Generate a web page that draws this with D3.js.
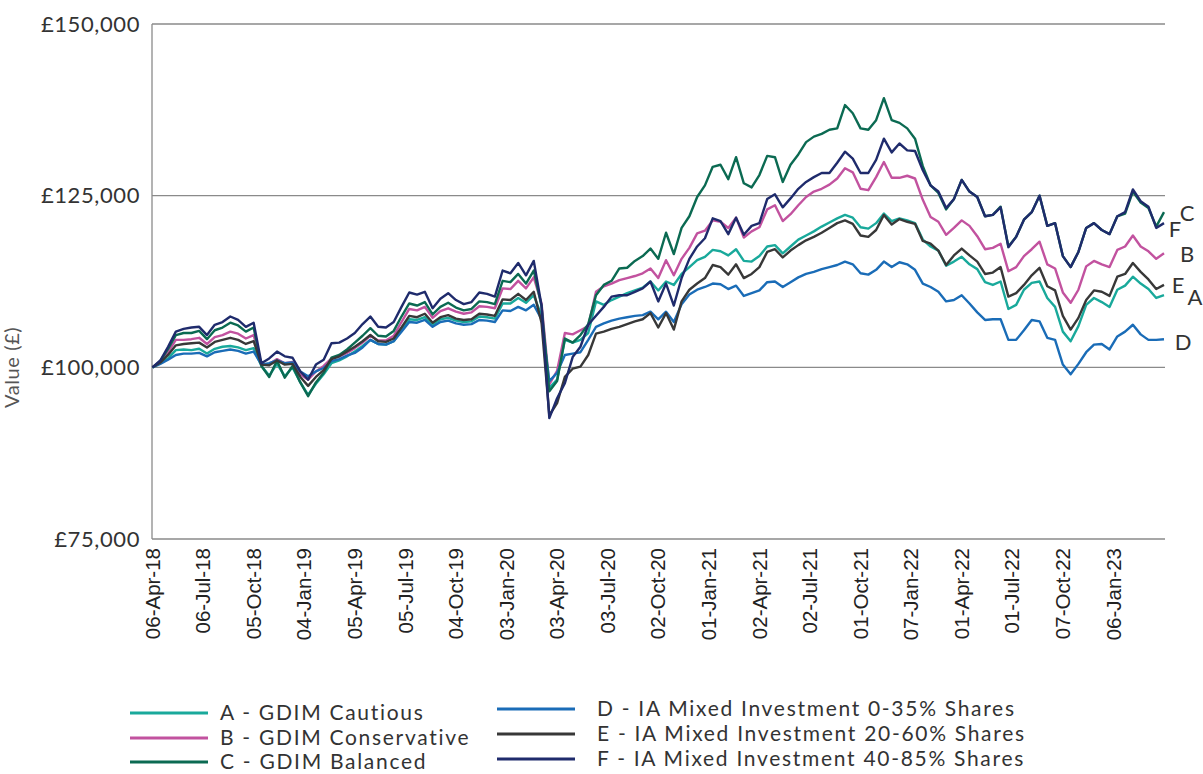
<!DOCTYPE html>
<html>
<head>
<meta charset="utf-8">
<script src="https://cdn.jsdelivr.net/npm/d3@7"></script>
<style>
  html, body { margin: 0; padding: 0; background: #fff; }
  svg { display: block; }
</style>
</head>
<body>
<svg id="chart" width="1203" height="774"></svg>
<script>
// ---- Data (values in £ thousands, one point every 2 weeks from 06-Apr-18) ----
const STEP_WEEKS = 2;
const TOTAL_WEEKS = 260;
const tickEveryWeeks = 13;
const tickLabels = ["06-Apr-18","06-Jul-18","05-Oct-18","04-Jan-19","05-Apr-19","05-Jul-19","04-Oct-19","03-Jan-20","03-Apr-20","03-Jul-20","02-Oct-20","01-Jan-21","02-Apr-21","02-Jul-21","01-Oct-21","07-Jan-22","01-Apr-22","01-Jul-22","07-Oct-22","06-Jan-23"];
const yTicks = [75, 100, 125, 150];

const seriesNames = ["A - GDIM Cautious","B - GDIM Conservative","C - GDIM Balanced","D - IA Mixed Investment 0-35% Shares","E - IA Mixed Investment 20-60% Shares","F - IA Mixed Investment 40-85% Shares"];
const seriesKeys = ["A","B","C","D","E","F"];

const valuesA = [100.0,100.6,101.3,102.5,102.6,102.5,102.7,102.0,102.7,103.0,103.1,102.9,102.5,102.8,100.2,98.8,100.5,98.7,100.0,97.8,96.0,97.6,99.0,100.6,101.0,101.6,102.3,103.1,104.0,103.4,103.3,103.8,105.4,107.0,106.9,107.3,106.2,107.0,107.2,106.8,106.6,106.7,107.4,107.3,107.1,109.3,109.3,110.1,109.4,110.5,107.5,97.0,98.2,104.0,103.6,104.0,105.0,109.6,109.1,109.8,110.3,110.8,111.2,111.6,112.5,111.2,112.5,112.0,113.6,114.6,115.6,116.1,117.1,116.9,116.3,117.2,115.5,115.4,116.2,117.6,117.8,116.6,117.6,118.6,119.2,119.8,120.5,121.1,121.7,122.2,121.8,120.4,120.2,121.0,122.4,121.3,121.7,121.4,121.0,118.6,117.6,117.0,114.8,115.4,116.1,115.0,114.3,112.4,112.0,112.5,108.5,109.1,111.3,112.3,112.5,110.1,108.8,105.2,103.8,106.0,109.1,110.1,109.5,108.8,111.3,111.9,113.2,112.2,111.4,110.1,110.5];
const valuesB = [100.0,100.8,102.2,104.0,104.0,104.1,104.3,103.4,104.4,104.7,105.2,104.9,104.2,104.7,100.3,100.5,101.2,100.6,100.8,99.0,98.2,99.4,100.2,101.3,101.6,102.1,102.8,103.6,104.6,103.9,103.9,104.6,106.6,108.5,108.3,108.8,107.2,108.2,108.6,108.1,107.8,108.0,108.9,108.8,108.6,111.5,111.4,112.6,111.5,113.1,109.3,97.5,99.5,105.0,104.8,105.4,106.0,111.0,111.8,112.2,112.7,113.0,113.3,113.7,114.4,113.0,115.6,113.4,115.8,117.4,119.5,119.9,121.4,121.2,120.3,121.8,118.9,119.8,120.4,123.0,123.6,121.3,122.3,123.6,124.8,125.6,126.0,126.6,127.5,129.0,128.4,126.0,125.8,127.7,129.9,127.6,127.6,127.9,127.5,124.4,121.9,121.2,119.3,120.3,121.4,120.6,119.1,117.2,117.4,118.0,114.0,114.6,116.2,117.2,118.3,115.0,114.4,110.9,109.4,111.3,114.7,115.5,115.0,114.6,117.1,117.6,119.2,117.6,116.9,115.8,116.6];
const valuesC = [100.0,100.9,102.7,104.7,105.0,105.0,105.3,104.1,105.4,105.8,106.5,106.1,105.2,105.8,100.2,98.6,101.0,98.5,100.2,97.8,95.8,97.8,99.2,101.4,101.8,102.6,103.6,104.6,105.7,104.6,104.5,105.3,107.4,109.3,109.0,109.5,107.7,108.8,109.4,108.7,108.3,108.5,109.6,109.5,109.2,112.6,112.4,113.6,112.2,114.1,108.9,96.5,98.0,104.2,103.6,104.7,106.3,110.5,112.0,112.6,114.4,114.5,115.5,116.2,117.3,115.8,119.6,116.5,120.3,122.0,124.8,126.5,129.2,129.5,127.4,130.6,126.8,126.2,128.0,130.8,130.6,127.0,129.5,131.0,132.8,133.6,134.0,134.6,134.8,138.2,137.0,134.8,134.6,136.0,139.2,136.0,135.6,134.8,133.3,129.3,126.5,125.4,123.0,124.5,127.3,125.6,124.8,122.0,122.2,123.4,117.6,119.0,121.5,122.6,125.0,120.6,121.0,116.2,114.6,116.8,120.3,121.0,120.0,119.4,122.0,122.4,125.6,124.0,123.2,120.5,122.6];
const valuesD = [100.0,100.5,101.1,101.8,102.0,102.0,102.1,101.6,102.2,102.4,102.6,102.4,102.0,102.3,100.4,100.6,101.0,100.6,100.7,99.4,98.7,99.4,99.9,100.9,101.2,101.7,102.1,102.9,104.0,103.4,103.3,103.8,105.2,106.6,106.5,106.9,105.9,106.6,106.8,106.4,106.2,106.3,106.9,106.8,106.6,108.3,108.2,108.8,108.3,109.1,107.0,98.0,99.2,101.8,102.0,102.2,104.0,105.9,106.4,106.8,107.1,107.3,107.5,107.6,108.1,107.0,108.1,106.6,109.2,110.6,111.3,111.7,112.2,112.1,111.4,111.9,110.4,110.8,111.2,112.4,112.5,111.7,112.4,113.1,113.6,113.9,114.3,114.6,114.9,115.4,115.0,113.7,113.5,114.2,115.4,114.6,115.3,115.0,114.2,112.2,111.7,111.0,109.6,109.8,110.5,109.3,108.0,106.9,107.0,107.0,104.0,104.0,105.4,106.9,106.7,104.3,104.0,100.4,99.0,100.5,102.2,103.3,103.4,102.6,104.5,105.2,106.2,104.8,104.0,104.0,104.1];
const valuesE = [100.0,100.7,101.8,103.2,103.4,103.5,103.6,102.9,103.7,104.0,104.3,104.0,103.4,103.8,100.4,100.3,101.0,100.4,100.5,98.6,97.3,98.6,99.6,101.2,101.6,102.3,103.0,103.8,104.7,103.8,103.7,104.2,105.8,107.5,107.3,107.8,106.5,107.3,107.6,107.1,106.9,107.0,107.8,107.7,107.5,109.9,109.8,110.7,109.8,111.0,106.5,93.0,94.8,98.6,99.8,100.1,101.8,104.9,105.2,105.6,105.9,106.3,106.7,107.0,107.9,105.8,107.9,105.5,109.6,111.3,112.2,113.0,114.9,114.6,113.5,115.0,113.0,113.6,114.6,116.8,117.2,116.0,117.0,117.8,118.5,119.0,119.6,120.3,121.0,121.4,120.9,119.2,119.0,120.0,122.2,120.8,121.6,121.2,120.9,118.4,118.0,117.0,114.9,116.3,117.3,116.3,115.4,113.6,113.8,114.6,110.3,110.8,112.0,113.4,114.5,111.8,111.2,107.5,105.5,107.2,109.8,111.2,111.0,110.4,113.2,113.6,115.2,113.9,112.8,111.4,112.0];
const valuesF = [100.0,101.0,103.0,105.2,105.6,105.8,105.9,104.7,106.2,106.6,107.4,106.9,105.9,106.5,100.6,101.3,102.3,101.6,101.4,99.4,98.2,100.4,101.1,103.5,103.6,104.2,105.0,106.3,107.4,105.9,105.8,106.6,108.8,110.9,110.6,111.0,108.6,110.0,110.8,109.8,109.2,109.5,110.9,110.7,110.3,114.1,113.7,115.2,113.4,115.5,109.0,92.6,95.5,97.7,101.5,103.0,106.2,107.5,108.8,110.3,110.5,110.5,111.0,111.5,112.5,109.6,112.2,109.0,113.0,115.8,117.6,118.8,121.7,121.3,119.4,121.8,119.3,120.6,121.0,124.5,125.2,123.3,124.6,126.0,127.0,127.7,128.3,128.3,129.8,131.4,130.4,128.3,128.3,130.2,133.3,131.3,132.6,131.6,131.5,128.7,126.5,125.6,123.2,124.5,127.3,125.6,124.8,122.0,122.2,123.3,117.5,119.0,121.5,122.6,125.0,120.6,121.0,116.2,114.6,116.8,120.3,121.0,120.0,119.4,122.0,122.6,125.9,124.2,123.4,120.3,121.0];

const seriesValues = [valuesA, valuesB, valuesC, valuesD, valuesE, valuesF];
const colors = ["#19a99b", "#c2529f", "#0b6a52", "#1a6cb7", "#383838", "#1f2b6c"];
const drawOrder = [0, 1, 3, 2, 4, 5];

// ---- Layout ----
const svg = d3.select("#chart");
const plot = { left: 152, right: 1165, top: 24, bottom: 539 };
const x = d3.scaleLinear().domain([0, TOTAL_WEEKS]).range([152.5, 1164]);
const y = d3.scaleLinear().domain([75, 150]).range([plot.bottom, plot.top]);
const uiFont = "Lato, 'Open Sans', sans-serif";

// Gridlines
svg.append("g").selectAll("line").data(yTicks).join("line")
  .attr("x1", plot.left).attr("x2", plot.right)
  .attr("y1", d => y(d)).attr("y2", d => y(d))
  .attr("stroke", "#8a8a8a").attr("stroke-width", 1.3);
// Left axis line
svg.append("line")
  .attr("x1", plot.left).attr("x2", plot.left)
  .attr("y1", plot.top).attr("y2", plot.bottom)
  .attr("stroke", "#8a8a8a").attr("stroke-width", 1.3);

// Y tick labels
const fmt = d3.format(",");
svg.append("g").selectAll("text").data(yTicks).join("text")
  .attr("x", 140).attr("y", d => y(d)).attr("dy", "0.35em")
  .attr("text-anchor", "end")
  .attr("font-family", uiFont)
  .attr("font-size", 22).attr("letter-spacing", 0.6).attr("fill", "#333")
  .text(d => "£" + fmt(d * 1000));

// Y title
svg.append("text")
  .attr("transform", `translate(19, ${y(100)}) rotate(-90)`)
  .attr("text-anchor", "middle")
  .attr("font-family", uiFont)
  .attr("font-size", 20).attr("letter-spacing", 0.6).attr("fill", "#555")
  .text("Value (£)");

// X tick labels
svg.append("g").selectAll("text").data(tickLabels).join("text")
  .attr("transform", (d, i) => `translate(${x(i * tickEveryWeeks)}, 548) rotate(-90)`)
  .attr("text-anchor", "end").attr("dy", "0.35em")
  .attr("font-family", "'Liberation Sans', Arial, sans-serif")
  .attr("font-size", 20.5).attr("fill", "#222")
  .text(d => d);

// Lines
const line = d3.line()
  .x((d, i) => x(i * STEP_WEEKS))
  .y(d => y(d));
svg.append("g").selectAll("path").data(drawOrder).join("path")
  .attr("d", k => line(seriesValues[k]))
  .attr("fill", "none")
  .attr("stroke", k => colors[k])
  .attr("stroke-width", 2.4)
  .attr("stroke-linejoin", "round");

// End labels
const endOffsets = [[31, 2], [23, 1], [23, 1], [19, 3], [14, 0], [11, 6]];
svg.append("g").selectAll("text").data(seriesKeys).join("text")
  .attr("x", (d, i) => x(TOTAL_WEEKS) + endOffsets[i][0])
  .attr("y", (d, i) => y(seriesValues[i][seriesValues[i].length - 1]) + endOffsets[i][1])
  .attr("dy", "0.35em").attr("text-anchor", "middle")
  .attr("font-family", uiFont)
  .attr("font-size", 22).attr("fill", "#333")
  .text(d => d);

// Legend
const legendPos = [
  { lx: 130, tx: 220, y: 713 }, { lx: 130, tx: 220, y: 738 }, { lx: 130, tx: 220, y: 762 },
  { lx: 497, tx: 597, y: 709 }, { lx: 497, tx: 597, y: 734 }, { lx: 497, tx: 597, y: 759 }
];
const lg = svg.append("g").selectAll("g").data(seriesNames).join("g");
lg.append("line")
  .attr("x1", (d, i) => legendPos[i].lx).attr("x2", (d, i) => legendPos[i].lx + 78)
  .attr("y1", (d, i) => legendPos[i].y).attr("y2", (d, i) => legendPos[i].y)
  .attr("stroke", (d, i) => colors[i]).attr("stroke-width", 3);
lg.append("text")
  .attr("x", (d, i) => legendPos[i].tx).attr("y", (d, i) => legendPos[i].y)
  .attr("dy", "0.35em")
  .attr("font-family", uiFont)
  .attr("font-size", 21).attr("letter-spacing", 1.7).attr("fill", "#333")
  .text(d => d);
</script>
</body>
</html>
